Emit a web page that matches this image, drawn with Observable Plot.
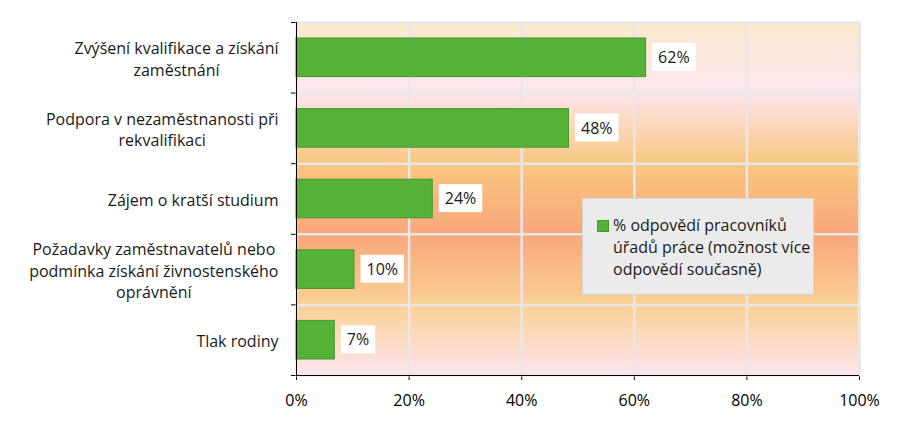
<!DOCTYPE html>
<html><head><meta charset="utf-8">
<script src="https://cdn.jsdelivr.net/npm/d3@7"></script>
<script src="https://cdn.jsdelivr.net/npm/@observablehq/plot@0.6"></script>
<style>
body{margin:0;background:#fff;}
#wrap{position:relative;width:903px;height:426px;font-family:"Open Sans",sans-serif;color:#1a1a1a;}
#legend{position:absolute;left:582px;top:198px;width:232px;height:97px;background:#ebebeb;border:1px solid #d6d6d6;box-sizing:border-box;padding:15px 4px 0 14px;display:flex;align-items:flex-start;font-size:16px;line-height:22px;}
#legend .sw{width:10px;height:10px;background:#55b236;border:1px solid #46972d;margin-top:6px;margin-right:4px;flex:none;}
#legend .tx{white-space:pre;}
</style></head>
<body><div id="wrap"></div>
<script>
const categories = [
  "Zvýšení kvalifikace a získání\nzaměstnání",
  "Podpora v nezaměstnanosti při\nrekvalifikaci",
  "Zájem o kratší studium",
  "Požadavky zaměstnavatelů nebo\npodmínka získání živnostenského\noprávnění",
  "Tlak rodiny"
];
const values = [62.1, 48.4, 24.2, 10.3, 6.8];
const xTicks = [0, 20, 40, 60, 80, 100];
const seriesName = "% odpovědí pracovníků\núřadů práce (možnost více\nodpovědí současně)";

const FONT = '"Open Sans", sans-serif';
const FS = 16;
const rows = categories.map((c, i) => ({cat: c, i, value: values[i]}));

// measure label blocks so lines are centered within a right-aligned block
const ctx = document.createElement("canvas").getContext("2d");
ctx.font = `${FS}px "Open Sans"`;
const blockW = categories.map(c => d3.max(c.split("\n"), l => ctx.measureText(l).width));

const catMarks = categories.map((c, i) =>
  Plot.text([rows[i]], {x: () => 0, y: d => d.i + 0.5, text: d => d.cat, textAnchor: "middle",
    lineAnchor: "middle", lineHeight: 1.35, dx: -(18 + blockW[i] / 2), fontSize: FS, fill: "#1a1a1a"}));

const chart = Plot.plot({
  width: 903, height: 426,
  marginLeft: 296, marginRight: 44, marginTop: 22, marginBottom: 51,
  style: {fontFamily: FONT, fontSize: FS + "px", color: "#000", background: "transparent", overflow: "visible"},
  x: {type: "linear", domain: [0, 100], ticks: xTicks, tickFormat: d => d + "%", tickSize: 5, tickPadding: 14, label: null},
  y: {type: "linear", domain: [0, categories.length], reverse: true, ticks: d3.range(categories.length + 1), tickFormat: () => "", tickSize: 5, label: null},
  marks: [
    Plot.frame({fill: "url(#bgGrad)", stroke: "#e6e6e6", strokeWidth: 2}),
    Plot.ruleX(xTicks.slice(1), {x: d => d, stroke: "#e8e8e8", strokeWidth: 2.5}),
    Plot.ruleY(d3.range(categories.length), {y: d => d, stroke: "#e8e8e8", strokeWidth: 2.5}),
    Plot.rect(rows, {x1: () => 0, x2: "value", y1: "i", y2: d => d.i + 1, insetTop: 16, insetBottom: 16,
      fill: "#55b236", stroke: "#46972d", strokeWidth: 1}),
    Plot.text(rows, {x: "value", y: d => d.i + 0.5, text: d => Math.round(d.value) + "%", dx: 12,
      textAnchor: "start", fontSize: FS, fill: "#1a1a1a"}),
    ...catMarks,
    Plot.ruleX([0], {x: d => d, stroke: "#000"}),
    Plot.ruleY([categories.length], {y: d => d, stroke: "#000"})
  ]
});

const wrap = document.getElementById("wrap");
wrap.appendChild(chart);
const svg = d3.select(chart);
svg.insert("defs", ":first-child").html(`
<linearGradient id="bgGrad" x1="0" y1="0" x2="0" y2="1">
  <stop offset="0" stop-color="#fbe9cc"/>
  <stop offset="0.19" stop-color="#fde6ef"/>
  <stop offset="0.4" stop-color="#f9c781"/>
  <stop offset="0.6" stop-color="#f9a77a"/>
  <stop offset="0.8" stop-color="#fad195"/>
  <stop offset="1" stop-color="#fde5ee"/>
</linearGradient>`);

// white boxes behind value labels
svg.selectAll('g[aria-label="text"] text')
  .filter(function() { return /^\d+%$/.test(this.textContent); })
  .each(function() {
    const b = this.getBBox();
    d3.select(this.parentNode).insert("rect", () => this)
      .attr("x", b.x - 6).attr("y", b.y + b.height / 2 - 14)
      .attr("width", b.width + 12).attr("height", 28).attr("fill", "#fff")
      .attr("transform", this.getAttribute("transform"));
  });

const legend = document.createElement("div");
legend.id = "legend";
legend.innerHTML = `<div class="sw"></div><div class="tx"></div>`;
legend.querySelector(".tx").textContent = seriesName;
wrap.appendChild(legend);
</script>
</body></html>
